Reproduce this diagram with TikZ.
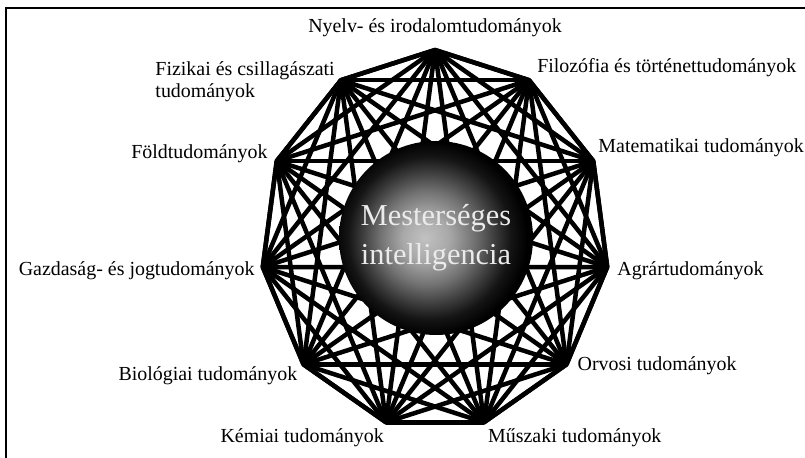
\documentclass[tikz,border=0pt]{standalone}
\usepackage{fontspec}
\setmainfont{Liberation Serif}
\usetikzlibrary{positioning}

\pgfdeclareradialshading{aiball}{\pgfpoint{-3bp}{0bp}}{color(0bp)=(black!24); color(6bp)=(black!34); color(12bp)=(black!55); color(17bp)=(black!76); color(21bp)=(black!92); color(25bp)=(black); color(50bp)=(black)}

\tikzset{
    field/.style={font=\fontsize{20}{22}\selectfont, inner sep=1bp},
    link/.style={line width=4.5bp, line join=miter},
}

\begin{document}
\begin{tikzpicture}[x=1bp, y=1bp]
        \useasboundingbox (0, 0) rectangle (805, 458);

        % frame (only its left and top sides are in the picture)
        \draw[line width=1.6bp] (6, 0) -- (6, 450) -- (805, 450);

        % the eleven fields on an ellipse round the centre
        \foreach \i in {0, 1, ..., 10} {
            \coordinate (v\i) at ({435 + 174 * cos(90 - \i * 360/11)}, {218 + 190 * sin(90 - \i * 360/11)});
        }

        % every field linked with every other one
        \foreach \i in {0, 1, ..., 9} {
            \pgfmathtruncatemacro\nexti{\i + 1}
            \foreach \j in {\nexti, ..., 10} {
                \draw[link] (v\i) -- (v\j);
            }
        }
        \draw[link] (v0) -- (v1) -- (v2) -- (v3) -- (v4) -- (v5) -- (v6) -- (v7) -- (v8) -- (v9) -- (v10) -- cycle;

        % the sphere in the middle
        \node[circle, minimum size=194bp, inner sep=0, shading=aiball, text=white!92!black,
              font=\fontsize{30.5}{39}\selectfont, align=center] (ai) at (436, 220) {Mesterséges\\intelligencia};

        % labels
        \node[field, above=12bp of v0] (nyelv) {Nyelv- és irodalomtudományok};
        \node[field, anchor=west] (filo) at ([shift={(7, 12.5)}] v1) {Filozófia és történettudományok};
        \node[field, anchor=west] (mat) at ([shift={(4, 13.5)}] v2) {Matematikai tudományok};
        \node[field, anchor=west] (agrar) at ([shift={(9, -3.5)}] v3) {Agrártudományok};
        \node[field, anchor=west] (orvos) at ([shift={(10, -1)}] v4) {Orvosi tudományok};
        \node[field, anchor=west] (muszaki) at ([shift={(3, -15)}] v5) {Műszaki tudományok};
        \node[field, anchor=east] (kemia) at ([shift={(-1, -15)}] v6) {Kémiai tudományok};
        \node[field, anchor=east] (bio) at ([shift={(-5, -11)}] v7) {Biológiai tudományok};
        \node[field, anchor=east] (gazd) at ([shift={(-7, -3.5)}] v8) {Gazdaság- és jogtudományok};
        \node[field, anchor=east] (fold) at ([shift={(-8, 7.5)}] v9) {Földtudományok};
        \node[field, anchor=east, align=left] (fiz) at ([shift={(-5, -1.5)}] v10) {Fizikai és csillagászati\\tudományok};

\end{tikzpicture}
\end{document}
